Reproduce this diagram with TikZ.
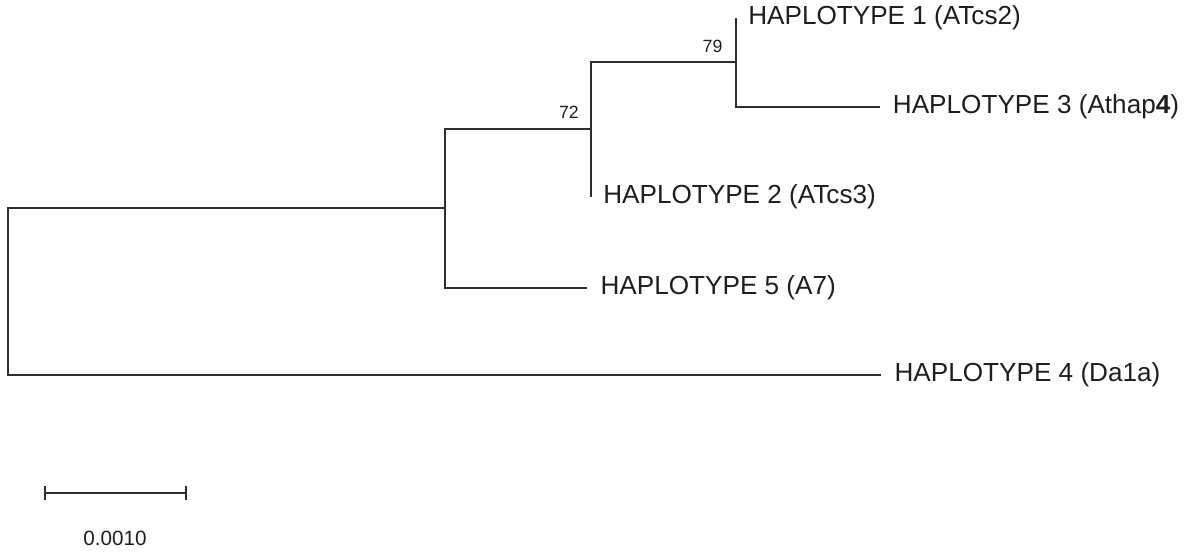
\documentclass[tikz,border=0pt]{standalone}
\usepackage{fontspec}
\setmainfont{Liberation Sans}
\usetikzlibrary{positioning,arrows.meta}
\definecolor{branchgray}{HTML}{2E2E2E}
\definecolor{labelgray}{HTML}{1E1E1E}

\begin{document}
\begin{tikzpicture}[x=0.75pt,y=-0.75pt,line join=miter,
  branch/.style={draw=branchgray,line width=1.5pt},
  taxon/.style={anchor=west,inner sep=0pt,text=labelgray,font=\fontsize{19.6}{22}\selectfont},
  boot/.style={anchor=south east,inner sep=0pt,text=labelgray,font=\fontsize{13.3}{15}\selectfont}]
  \useasboundingbox (0,0) rectangle (1191,551);
  % inner nodes of the tree
  \coordinate (root) at (8,292);
  \coordinate (cladeA) at (445,208);
  \coordinate (clade72) at (591,129);
  \coordinate (clade79) at (736,62);
  % branch tips
  \coordinate (tip1) at (736,18);
  \coordinate (tip2) at (591,197);
  \coordinate (tip3) at (880,107);
  \coordinate (tip4) at (881,375);
  \coordinate (tip5) at (587,288);

  \draw[branch] (cladeA) -| (root) |- (tip4);
  \draw[branch] (clade72) -| (cladeA) |- (tip5);
  \draw[branch] (clade79) -| (clade72) |- (tip2);
  \draw[branch] (tip1) -| (clade79) |- (tip3);

  \node[taxon,right=9pt of tip1] (hap1) {HAPLOTYPE 1 (ATcs2)};
  \node[taxon,right=9pt of tip2] (hap2) {HAPLOTYPE 2 (ATcs3)};
  \node[taxon,right=9.5pt of tip3] (hap3) {HAPLOTYPE 3 (Athap{\bfseries 4})};
  \node[taxon,right=10pt of tip4] (hap4) {HAPLOTYPE 4 (Da1a)};
  \node[taxon,right=10pt of tip5] (hap5) {HAPLOTYPE 5 (A7)};

  \node[boot,xshift=-10pt,yshift=7pt] (bs79) at (clade79) {79};
  \node[boot,xshift=-9pt,yshift=8pt] (bs72) at (clade72) {72};

  % scale bar
  \coordinate (barL) at (44,493);
  \coordinate (barR) at (187,493);
  \draw[branch,line width=1.3pt,{Bar[width=10pt]}-{Bar[width=10pt]}] (barL) -- (barR);
  \node[inner sep=0pt,text=labelgray,font=\fontsize{15.5}{17}\selectfont] (barlab) at (115,538) {0.0010};
\end{tikzpicture}
\end{document}
